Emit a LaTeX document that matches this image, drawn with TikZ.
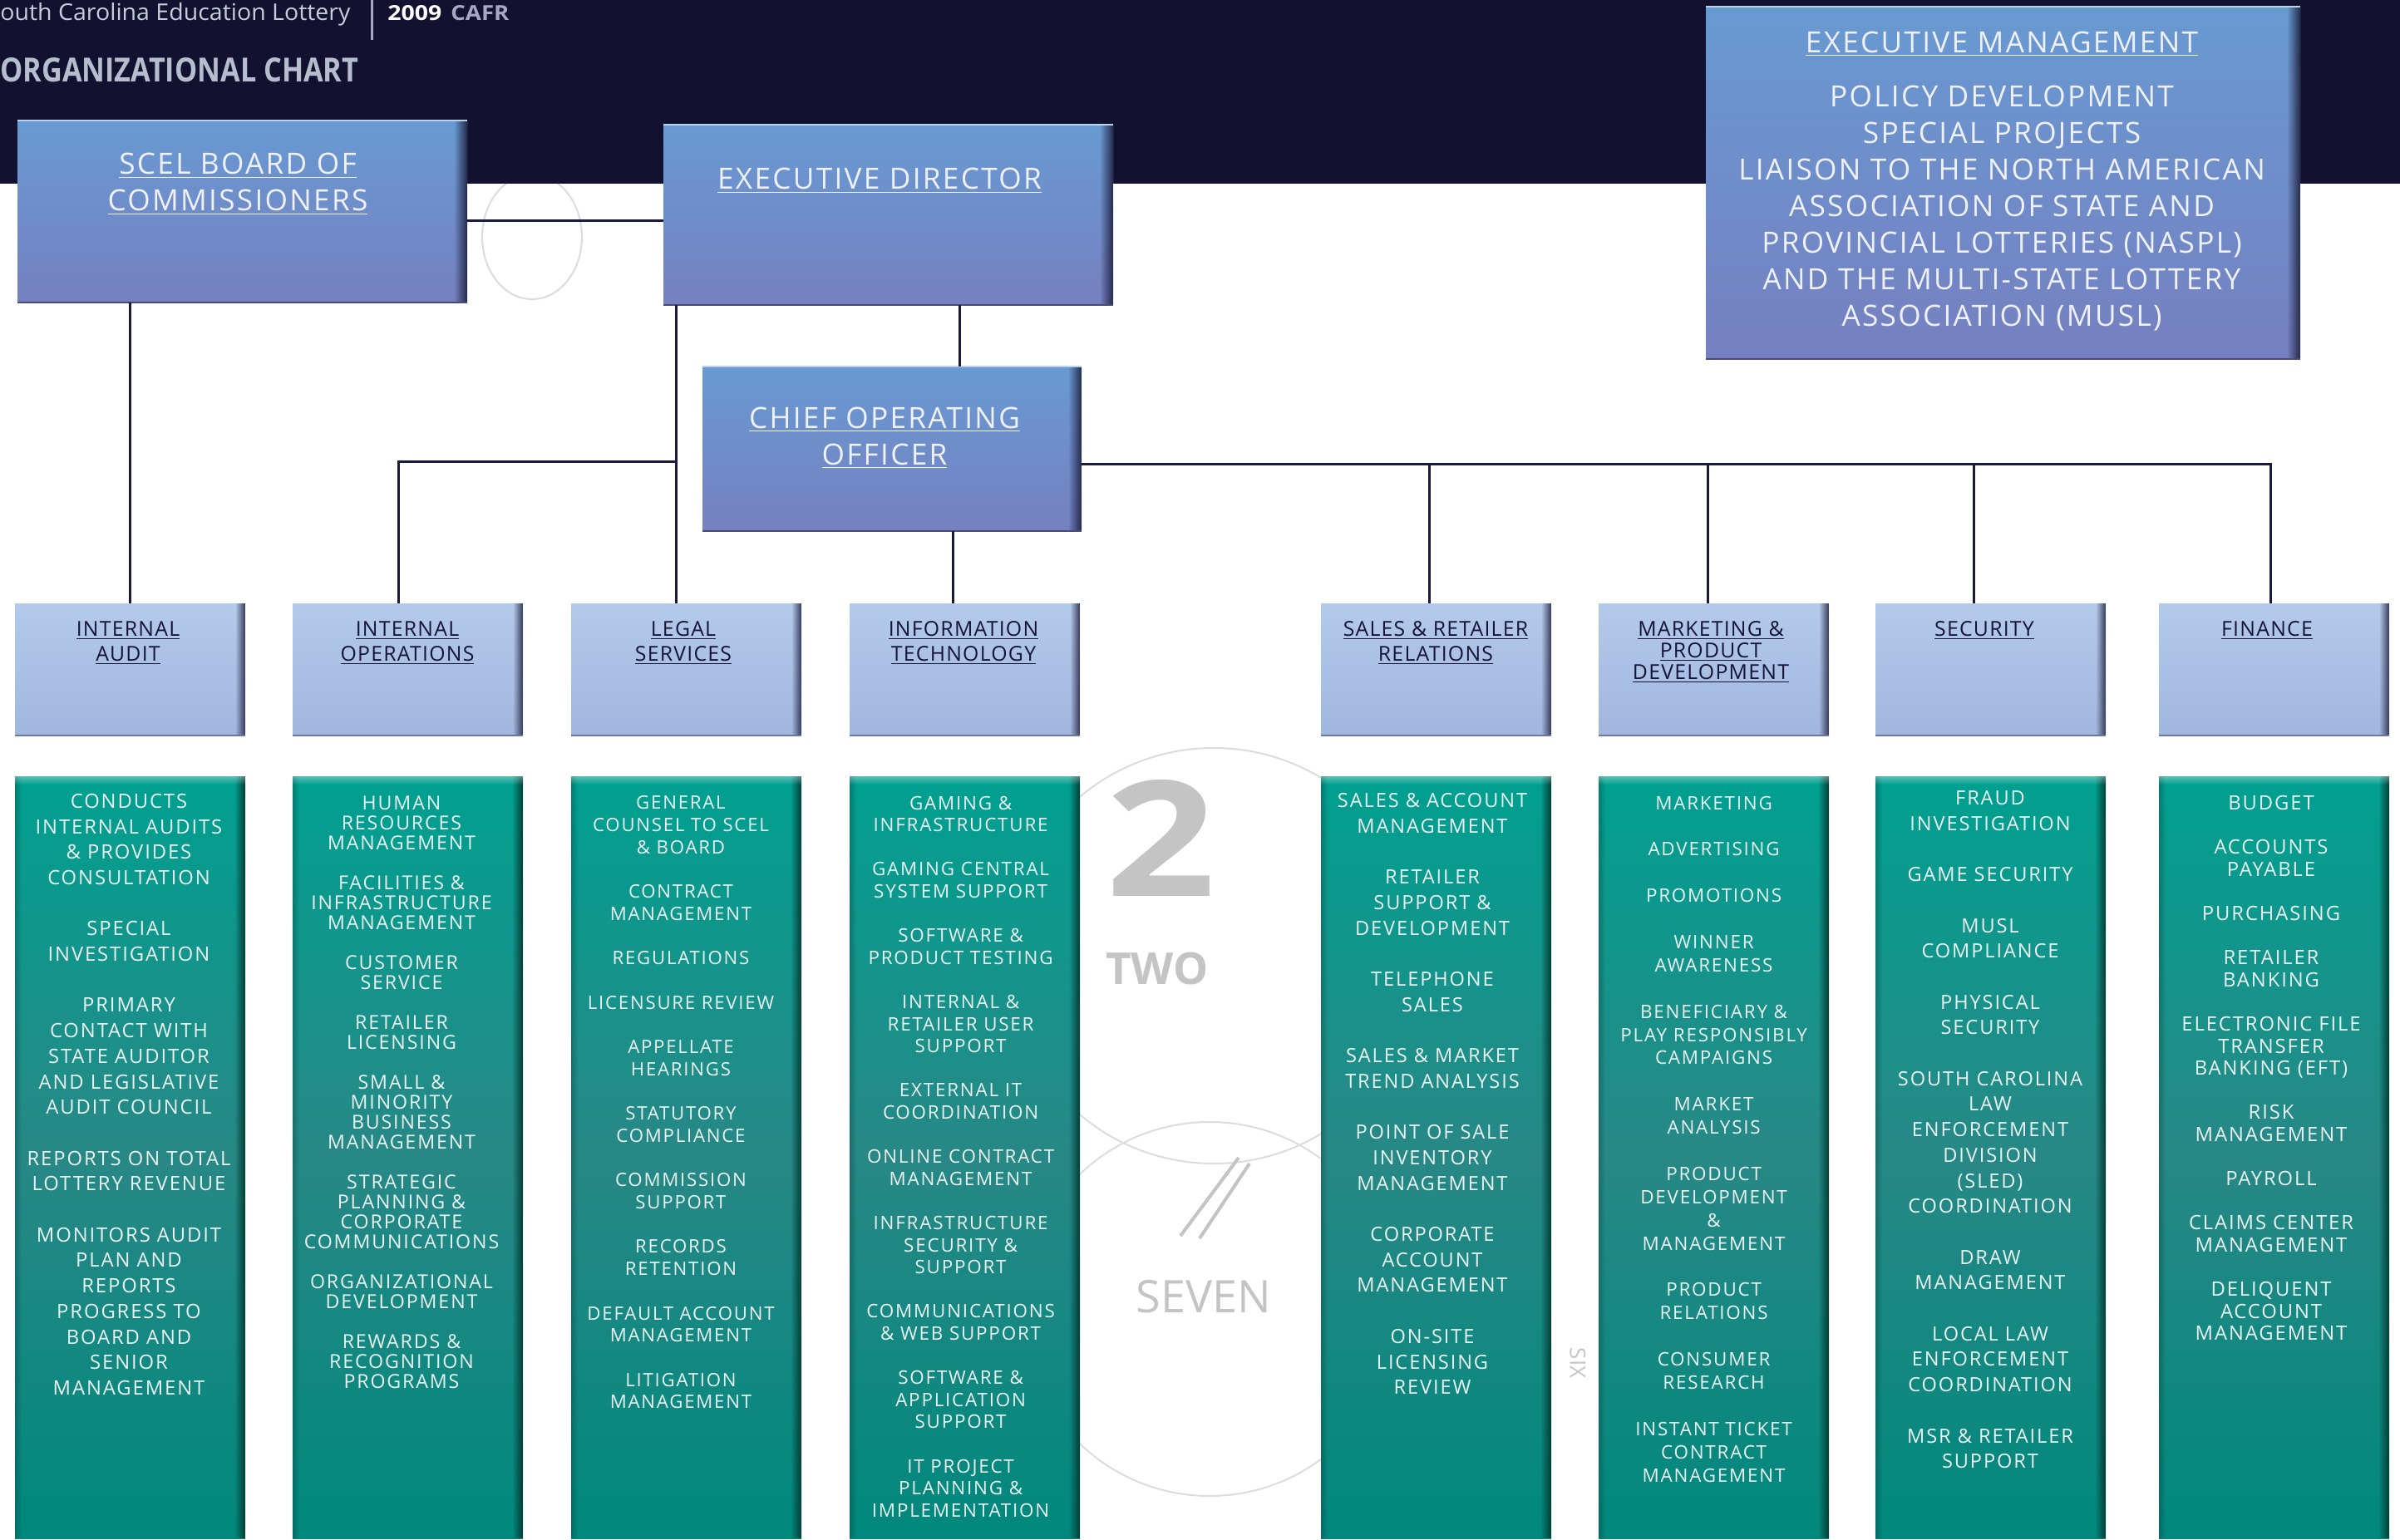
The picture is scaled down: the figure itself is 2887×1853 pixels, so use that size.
\documentclass[tikz,border=0pt]{standalone}
\usepackage{fontspec}
\setmainfont{Open Sans}
\newfontfamily\boxfont[LetterSpace=8]{Open Sans}
\newfontfamily\headfont[LetterSpace=5]{Open Sans}
\newfontfamily\topfont[LetterSpace=6.5]{Open Sans}
\usetikzlibrary{fadings}

\definecolor{band}{RGB}{18,18,48}
\definecolor{topA}{RGB}{104,154,210}
\definecolor{topB}{RGB}{118,128,192}
\definecolor{topEdge}{RGB}{36,42,74}
\definecolor{toptxt}{RGB}{238,240,250}
\definecolor{deptA}{RGB}{180,202,234}
\definecolor{deptB}{RGB}{160,182,222}
\definecolor{deptEdge}{RGB}{52,58,88}
\definecolor{deptText}{RGB}{20,20,56}
\definecolor{greenA}{RGB}{0,160,144}
\definecolor{greenM}{RGB}{40,136,134}
\definecolor{greenB}{RGB}{0,136,124}
\definecolor{greenEdge}{RGB}{4,60,54}
\definecolor{gtxt}{RGB}{234,246,244}
\definecolor{linkc}{RGB}{26,26,58}
\definecolor{hdrgray}{RGB}{200,205,218}
\definecolor{titlegray}{RGB}{181,189,206}
\definecolor{cafrgray}{RGB}{170,166,200}
\definecolor{sketch}{RGB}{196,196,196}

\newcommand{\und}[1]{\underline{#1}}
\newcommand{\itemgap}{\\[\baselineskip]}

\begin{document}
\begin{tikzpicture}[x=0.5pt, y=-0.5pt,
    boxsize/.style 2 args={inner sep=0pt, outer sep=0pt, anchor=north west,
      minimum width=#1*0.5pt, minimum height=#2*0.5pt},
    topbox/.style={top color=topA, bottom color=topB},
    deptbox/.style={top color=deptA, bottom color=deptB},
    greenbox/.style={top color=greenA, bottom color=greenB, middle color=greenM},
    link/.style={draw=linkc, line width=1.5pt},
    sketchline/.style={draw=sketch!60, line width=1pt},
    toptext/.style={anchor=north, inner sep=0pt, align=center, text=toptxt,
      font=\topfont\fontsize{17.6}{22}\selectfont},
    headtext/.style={anchor=north, inner sep=0pt, align=center, text=deptText,
      font=\headfont\fontsize{12.4}{15}\selectfont},
    gtext/.style 2 args={anchor=north, inner sep=0pt, align=center, text=gtxt,
      font=\boxfont\fontsize{#1}{#2}\selectfont},
    sketchtext/.style={inner sep=0pt, text=sketch}]

  \useasboundingbox (0,0) rectangle (2887,1853);
  \fill[white] (0,0) rectangle (2887,1853);

  % pencil sketches behind the chart
  \draw[sketchline] (1460,1150) circle (250);
  \draw[sketchline] (1455,1575) circle (225);
  \draw[sketchline] (640,285) ellipse (60 and 75);
  \node[sketchtext] (two) at (1397,1008) {\resizebox{66pt}{70pt}{\bfseries 2}};
  \node[sketchtext, font=\bfseries\fontsize{26.5}{26.5}\selectfont] (twoword) at (1392,1166) {TWO};
  \draw[sketch, line width=2pt] (1490,1393) -- (1420,1487);
  \draw[sketch, line width=2pt] (1503,1400) -- (1443,1490);
  \node[sketchtext, font=\fontsize{27}{27}\selectfont] (seven) at (1448,1560) {SEVEN};
  \node[sketchtext, rotate=-90, font=\fontsize{13}{13}\selectfont] (six) at (1898,1640) {SIX};

  % header band
  \fill[band] (0,0) rectangle (2887,221);
  \node[anchor=base west, inner sep=0pt, text=hdrgray] (lottery) at (0,24.5)
    {\resizebox{210.5pt}{10.5pt}{outh Carolina Education Lottery}};
  \draw[cafrgray, line width=1.5pt] (447,0) -- (447,48);
  \node[anchor=base west, inner sep=0pt, text=white] (year) at (466,24)
    {\resizebox{32.5pt}{9pt}{\bfseries 2009}};
  \node[anchor=base west, inner sep=0pt, text=cafrgray] (cafr) at (542,24)
    {\resizebox{35pt}{9pt}{\bfseries CAFR}};
  \node[anchor=base west, inner sep=0pt, text=titlegray] (title) at (0,98)
    {\resizebox{215.5pt}{14.5pt}{\bfseries ORGANIZATIONAL CHART}};

  % boxes
  \node[boxsize={541}{219}, topbox] (scel) at (21,145) {};
  \node[boxsize={541}{217}, topbox] (ed) at (798,150) {};
  \node[boxsize={456}{198}, topbox] (coo) at (845,441) {};
  \node[boxsize={715}{424}, topbox] (em) at (2052,8) {};
  \foreach \n/\x in {ia/18, io/352, legal/687, it/1022, sales/1589, mkt/1923, sec/2256, fin/2597} {
    \node[boxsize={277}{159}, deptbox] (\n) at (\x,726) {};
    \node[boxsize={277}{917}, greenbox] (g\n) at (\x,934) {};
  }

  % bevels
  \foreach \b in {scel,ed,coo,em} {
    \fill[topEdge, path fading=west] ([xshift=-8pt]\b.north east) rectangle (\b.south east);
    \draw[white!55!topA, line width=1pt] (\b.north west) -- (\b.north east);
    \draw[topEdge!60!topB, line width=1pt] (\b.south west) -- (\b.south east);
  }
  \foreach \b in {ia,io,legal,it,sales,mkt,sec,fin} {
    \fill[deptEdge, path fading=west] ([xshift=-6pt]\b.north east) rectangle (\b.south east);
    \draw[deptEdge!50!deptB, line width=1pt] (\b.south west) -- (\b.south east);
    \fill[greenEdge, path fading=west] ([xshift=-6.5pt]g\b.north east) rectangle (g\b.south east);
    \fill[greenEdge, fill opacity=.35, path fading=east] (g\b.north west) rectangle ([xshift=4pt]g\b.south west);
    \fill[white, fill opacity=.35, path fading=south] (g\b.north west) rectangle ([yshift=-5pt]g\b.north east);
  }

  % connectors
  \coordinate (jtop) at (680,265);
  \coordinate (jleft) at (813,555);
  \coordinate (jio) at (479,555);
  \coordinate (jcoo) at (1154,400);
  \coordinate (jit) at (1146,680);
  \coordinate (jright) at (2731,558);
  \draw[link] (scel.east |- jtop) -- (ed.west |- jtop);
  \draw[link] (scel.south -| ia.north) -- (ia.north);
  \draw[link] (ed.south -| jleft) -- (legal.north -| jleft);
  \draw[link] (jleft) -- (jio) -- (io.north -| jio);
  \draw[link] (ed.south -| jcoo) -- (coo.north -| jcoo);
  \draw[link] (coo.south -| jit) -- (it.north -| jit);
  \draw[link] (coo.east |- jright) -- (jright) -- (fin.north -| jright);
  \foreach \n/\x in {sales/1719, mkt/2054, sec/2374} {
    \coordinate (j\n) at (\x,558);
    \draw[link] (j\n) -- (\n.north -| j\n);
  }

  % top texts
  \node[toptext] (scelt) at (286,184) {\und{SCEL BOARD OF}\\\und{COMMISSIONERS}};
  \node[toptext] (edt) at (1058,202) {\und{EXECUTIVE DIRECTOR}};
  \node[toptext] (coot) at (1064,489.5) {\und{CHIEF OPERATING}\\\und{OFFICER}};
  \node[toptext] (emt) at (2408,37.5) {\und{EXECUTIVE MANAGEMENT}\\[10.5pt]
    POLICY DEVELOPMENT\\SPECIAL PROJECTS\\LIAISON TO THE NORTH AMERICAN\\
    ASSOCIATION OF STATE AND\\PROVINCIAL LOTTERIES (NASPL)\\
    AND THE MULTI-STATE LOTTERY\\ASSOCIATION (MUSL)};

  % department titles
  \node[headtext] (iat) at (154,747) {\und{INTERNAL}\\\und{AUDIT}};
  \node[headtext] (iot) at (490,747) {\und{INTERNAL}\\\und{OPERATIONS}};
  \node[headtext] (legalt) at (822,747) {\und{LEGAL}\\\und{SERVICES}};
  \node[headtext] (itt) at (1159,747) {\und{INFORMATION}\\\und{TECHNOLOGY}};
  \node[headtext] (salest) at (1727,747) {\und{SALES \& RETAILER}\\\und{RELATIONS}};
  \node[headtext, font=\headfont\fontsize{12.4}{13}\selectfont] (mktt) at (2058,747)
    {\und{MARKETING \&}\\\und{PRODUCT}\\\und{DEVELOPMENT}};
  \node[headtext] (sect) at (2387,747) {\und{SECURITY}};
  \node[headtext] (fint) at (2727,747) {\und{FINANCE}};

  % duties
  \node[gtext={11.9}{15.35}] (iaduty) at (155,954.7) {CONDUCTS\\INTERNAL AUDITS\\\& PROVIDES\\CONSULTATION\itemgap
    SPECIAL\\INVESTIGATION\itemgap
    PRIMARY\\CONTACT WITH\\STATE AUDITOR\\AND LEGISLATIVE\\AUDIT COUNCIL\itemgap
    REPORTS ON TOTAL\\LOTTERY REVENUE\itemgap
    MONITORS AUDIT\\PLAN AND\\REPORTS\\PROGRESS TO\\BOARD AND\\SENIOR\\MANAGEMENT};
  \node[gtext={11.6}{12}] (ioduty) at (483,957.1) {HUMAN\\RESOURCES\\MANAGEMENT\itemgap
    FACILITIES \&\\INFRASTRUCTURE\\MANAGEMENT\itemgap
    CUSTOMER\\SERVICE\itemgap
    RETAILER\\LICENSING\itemgap
    SMALL \&\\MINORITY\\BUSINESS\\MANAGEMENT\itemgap
    STRATEGIC\\PLANNING \&\\CORPORATE\\COMMUNICATIONS\itemgap
    ORGANIZATIONAL\\DEVELOPMENT\itemgap
    REWARDS \&\\RECOGNITION\\PROGRAMS};
  \node[gtext={11.1}{13.35}] (legalduty) at (819,957.5) {GENERAL\\COUNSEL TO SCEL\\\& BOARD\itemgap
    CONTRACT\\MANAGEMENT\itemgap
    REGULATIONS\itemgap
    LICENSURE REVIEW\itemgap
    APPELLATE\\HEARINGS\itemgap
    STATUTORY\\COMPLIANCE\itemgap
    COMMISSION\\SUPPORT\itemgap
    RECORDS\\RETENTION\itemgap
    DEFAULT ACCOUNT\\MANAGEMENT\itemgap
    LITIGATION\\MANAGEMENT};
  \node[gtext={11.2}{13.3}] (itduty) at (1155.6,957.4) {GAMING \&\\INFRASTRUCTURE\itemgap
    GAMING CENTRAL\\SYSTEM SUPPORT\itemgap
    SOFTWARE \&\\PRODUCT TESTING\itemgap
    INTERNAL \&\\RETAILER USER\\SUPPORT\itemgap
    EXTERNAL IT\\COORDINATION\itemgap
    ONLINE CONTRACT\\MANAGEMENT\itemgap
    INFRASTRUCTURE\\SECURITY \&\\SUPPORT\itemgap
    COMMUNICATIONS\\\& WEB SUPPORT\itemgap
    SOFTWARE \&\\APPLICATION\\SUPPORT\itemgap
    IT PROJECT\\PLANNING \&\\IMPLEMENTATION};
  \node[gtext={11.8}{15.35}] (salesduty) at (1723,954.1) {SALES \& ACCOUNT\\MANAGEMENT\itemgap
    RETAILER\\SUPPORT \&\\DEVELOPMENT\itemgap
    TELEPHONE\\SALES\itemgap
    SALES \& MARKET\\TREND ANALYSIS\itemgap
    POINT OF SALE\\INVENTORY\\MANAGEMENT\itemgap
    CORPORATE\\ACCOUNT\\MANAGEMENT\itemgap
    ON-SITE\\LICENSING\\REVIEW};
  \node[gtext={11.2}{13.95}] (mktduty) at (2061.6,957.4) {MARKETING\itemgap
    ADVERTISING\itemgap
    PROMOTIONS\itemgap
    WINNER\\AWARENESS\itemgap
    BENEFICIARY \&\\PLAY RESPONSIBLY\\CAMPAIGNS\itemgap
    MARKET\\ANALYSIS\itemgap
    PRODUCT\\DEVELOPMENT\\\&\\MANAGEMENT\itemgap
    PRODUCT\\RELATIONS\itemgap
    CONSUMER\\RESEARCH\itemgap
    INSTANT TICKET\\CONTRACT\\MANAGEMENT};
  \node[gtext={11.8}{15.35}] (secduty) at (2394,951.2) {FRAUD\\INVESTIGATION\itemgap
    GAME SECURITY\itemgap
    MUSL\\COMPLIANCE\itemgap
    PHYSICAL\\SECURITY\itemgap
    SOUTH CAROLINA\\LAW\\ENFORCEMENT\\DIVISION\\(SLED)\\COORDINATION\itemgap
    DRAW\\MANAGEMENT\itemgap
    LOCAL LAW\\ENFORCEMENT\\COORDINATION\itemgap
    MSR \& RETAILER\\SUPPORT};
  \node[gtext={11.9}{13.3}] (finduty) at (2732,956.9) {BUDGET\itemgap
    ACCOUNTS\\PAYABLE\itemgap
    PURCHASING\itemgap
    RETAILER\\BANKING\itemgap
    ELECTRONIC FILE\\TRANSFER\\BANKING (EFT)\itemgap
    RISK\\MANAGEMENT\itemgap
    PAYROLL\itemgap
    CLAIMS CENTER\\MANAGEMENT\itemgap
    DELIQUENT\\ACCOUNT\\MANAGEMENT};
\end{tikzpicture}
\end{document}
